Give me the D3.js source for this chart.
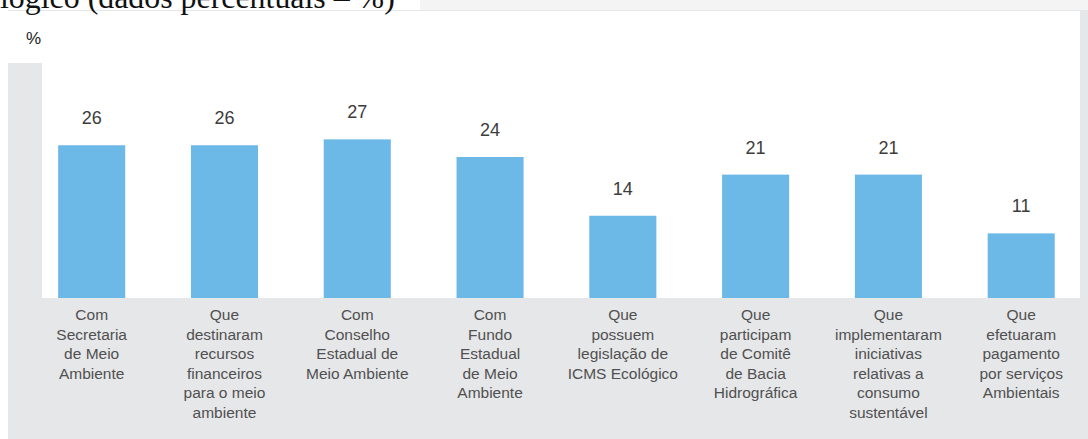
<!DOCTYPE html>
<html>
<head>
<meta charset="utf-8">
<script src="https://cdn.jsdelivr.net/npm/d3@7"></script>
<style>
  html, body { margin: 0; padding: 0; background: #ffffff; }
  svg { display: block; }
</style>
</head>
<body>
<svg id="chart" width="1088" height="439"></svg>
<script>
// ---- data ----
const categories = [
  ["Com", "Secretaria", "de Meio", "Ambiente"],
  ["Que", "destinaram", "recursos", "financeiros", "para o meio", "ambiente"],
  ["Com", "Conselho", "Estadual de", "Meio Ambiente"],
  ["Com", "Fundo", "Estadual", "de Meio", "Ambiente"],
  ["Que", "possuem", "legislação de", "ICMS Ecológico"],
  ["Que", "participam", "de Comitê", "de Bacia", "Hidrográfica"],
  ["Que", "implementaram", "iniciativas", "relativas a", "consumo", "sustentável"],
  ["Que", "efetuaram", "pagamento", "por serviços", "Ambientais"]
];
const values = [26, 26, 27, 24, 14, 21, 21, 11];
const unitLabel = "%";
const headerText = "lógico (dados percentuais – %)";

// ---- layout ----
const svg = d3.select("#chart");
const W = 1088, H = 439;
const plot = { left: 42, right: 1080, top: 63, bottom: 298 };

// panel background
svg.append("rect").attr("x", 8).attr("y", 10).attr("width", W - 8).attr("height", H - 10)
  .attr("fill", "#e6e7e9");
// top white strip (contains unit label)
svg.append("rect").attr("x", 8).attr("y", 11).attr("width", plot.right - 8).attr("height", plot.top - 11)
  .attr("fill", "#ffffff");
// white plot area
svg.append("rect").attr("x", plot.left).attr("y", plot.top)
  .attr("width", plot.right - plot.left).attr("height", plot.bottom - plot.top)
  .attr("fill", "#ffffff");
// faint top band
svg.append("rect").attr("x", 420).attr("y", 0).attr("width", W - 420).attr("height", 10)
  .attr("fill", "#f4f4f4");

// header text (cut off at top, as in the source image)
const header = svg.append("text")
  .attr("x", 0).attr("y", 8)
  .attr("font-family", "'Liberation Serif', 'Times New Roman', serif")
  .attr("font-size", 27)
  .attr("fill", "#111")
  .text(headerText);
const hw = header.node().getComputedTextLength();
if (hw > 0) header.attr("font-size", 27 * 395 / hw);

// unit label
svg.append("text")
  .attr("x", 26).attr("y", 44)
  .attr("font-family", "'Liberation Sans', Arial, sans-serif")
  .attr("font-size", 17)
  .attr("fill", "#222")
  .text(unitLabel);

// scales
const x = d3.scaleBand()
  .domain(d3.range(values.length))
  .range([plot.left, plot.right])
  .paddingInner(0.495)
  .paddingOuter(0.156)
  .align(0.39);

const y = d3.scaleLinear()
  .domain([0, 40])
  .range([plot.bottom, plot.top]);

// bars
svg.append("g").selectAll("rect")
  .data(values)
  .join("rect")
  .attr("x", (d, i) => x(i))
  .attr("y", d => y(d))
  .attr("width", x.bandwidth())
  .attr("height", d => y(0) - y(d))
  .attr("fill", "#6cb8e6");

// value labels
svg.append("g").selectAll("text")
  .data(values)
  .join("text")
  .attr("x", (d, i) => x(i) + x.bandwidth() / 2)
  .attr("y", d => y(d) - 21)
  .attr("text-anchor", "middle")
  .attr("font-family", "'Liberation Sans', Arial, sans-serif")
  .attr("font-size", 18)
  .attr("fill", "#3c3c3c")
  .text(d => d);

// category labels
const catG = svg.append("g")
  .attr("font-family", "'Liberation Sans', Arial, sans-serif")
  .attr("font-size", 15.5)
  .attr("fill", "#505050")
  .attr("text-anchor", "middle");

catG.selectAll("text")
  .data(categories)
  .join("text")
  .attr("x", (d, i) => x(i) + x.bandwidth() / 2)
  .attr("y", plot.bottom + 22)
  .each(function(lines, i) {
    const t = d3.select(this);
    lines.forEach((ln, k) => {
      t.append("tspan")
        .attr("x", x(i) + x.bandwidth() / 2)
        .attr("dy", k === 0 ? 0 : 19.6)
        .text(ln);
    });
  });
</script>
</body>
</html>
